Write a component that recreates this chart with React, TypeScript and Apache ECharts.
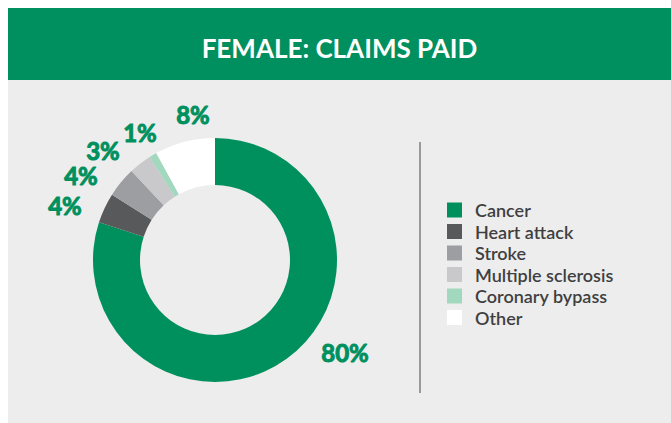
import React, { useEffect, useRef } from "react";
import * as echarts from "echarts";

const TITLE = "FEMALE: CLAIMS PAID";
const categories = ["Cancer", "Heart attack", "Stroke", "Multiple sclerosis", "Coronary bypass", "Other"];
const values = [80, 4, 4, 3, 1, 8];
const colors = ["#00905e", "#58595b", "#9d9ea2", "#c9c9cb", "#a2d8be", "#ffffff"];

// label centres (px, relative to chart container)
const LABEL_POS: [number, number][] = [
  [337, 344],
  [57, 197],
  [73, 167],
  [95, 142],
  [132, 124],
  [185, 106],
];

export default function App() {
  const ref = useRef<HTMLDivElement>(null);
  useEffect(() => {
    if (!ref.current) return;
    const chart = echarts.init(ref.current, null, { renderer: "svg" });
    chart.setOption({
      animation: false,
      backgroundColor: "#ededed",
      title: {
        text: TITLE,
        left: "center",
        top: 22,
        textStyle: { color: "#ffffff", fontFamily: "Lato", fontWeight: "bold", fontSize: 26 },
      },
      graphic: [
        { type: "rect", z: -1, shape: { x: 0, y: 0, width: 663, height: 72 }, style: { fill: "#008f5e" } },
        { type: "line", shape: { x1: 412, y1: 134, x2: 412, y2: 385 }, style: { stroke: "#9a9a9a", lineWidth: 2 } },
      ],
      legend: {
        orient: "vertical",
        left: 439,
        top: 193,
        padding: 0,
        icon: "rect",
        itemWidth: 15,
        itemHeight: 15,
        itemGap: 3.5,
        selectedMode: false,
        data: categories,
        textStyle: { color: "#3f3f41", fontFamily: "Lato", fontWeight: 600, fontSize: 18, padding: [0, 0, 0, 8] },
      },
      series: [
        {
          type: "pie",
          center: [207, 252],
          radius: [75, 122],
          startAngle: 90,
          clockwise: true,
          avoidLabelOverlap: false,
          itemStyle: { borderWidth: 0 },
          label: {
            show: true,
            formatter: "{c}%",
            color: "#00905e",
            fontFamily: "Lato",
            fontWeight: "bold",
            fontSize: 24,
            textBorderColor: "#00905e",
            textBorderWidth: 1,
          },
          labelLine: { show: false },
          labelLayout: (p: any) => ({
            x: LABEL_POS[p.dataIndex][0],
            y: LABEL_POS[p.dataIndex][1],
            align: "center",
            verticalAlign: "middle",
          }),
          emphasis: { disabled: true },
          data: categories.map((name, i) => ({ name, value: values[i], itemStyle: { color: colors[i] } })),
        },
      ],
    });
    return () => chart.dispose();
  }, []);
  return <div ref={ref} style={{ position: "absolute", left: 8, top: 8, width: 663, height: 415 }} />;
}
